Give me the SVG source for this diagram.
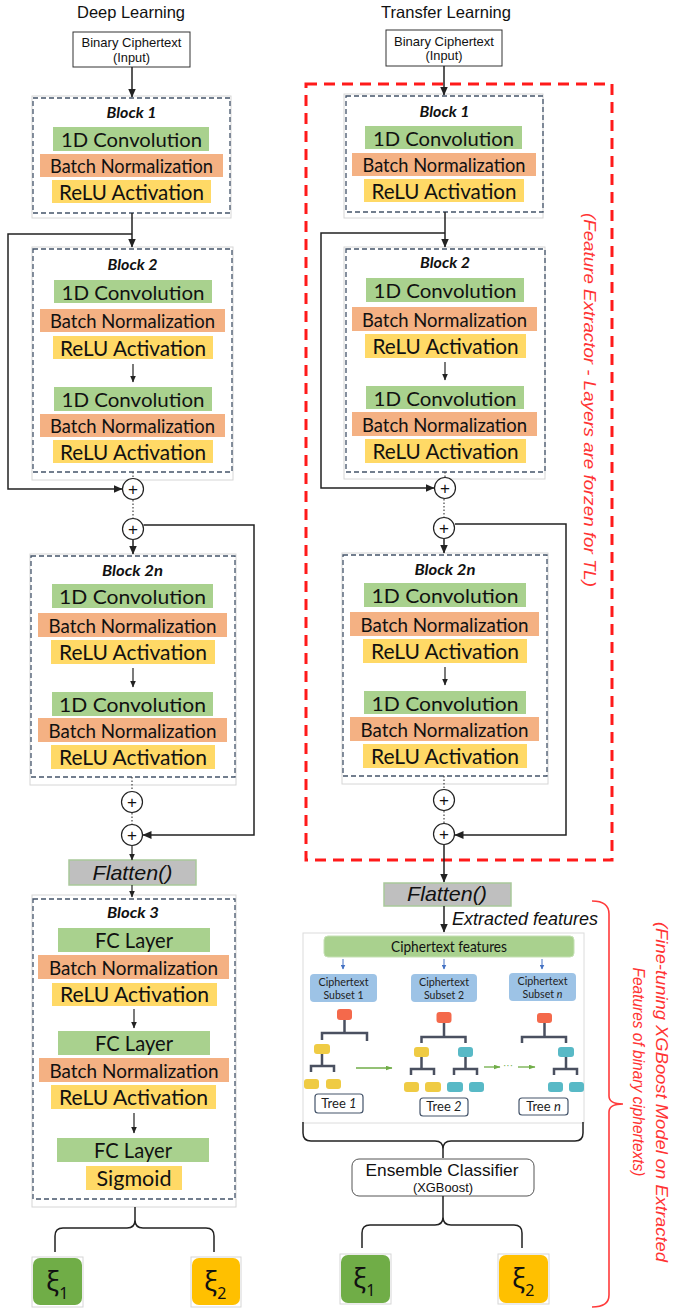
<svg xmlns="http://www.w3.org/2000/svg" width="675" height="1310" viewBox="0 0 675 1310">
<defs>
<marker id="ah" markerWidth="9" markerHeight="8" refX="8.5" refY="4" orient="auto" markerUnits="userSpaceOnUse"><path d="M0,0 L9,4 L0,8 z" fill="#222"/></marker>
<marker id="ahs" markerWidth="7" markerHeight="6" refX="6.5" refY="3" orient="auto" markerUnits="userSpaceOnUse"><path d="M0,0 L7,3 L0,6 z" fill="#222"/></marker>
<marker id="ahg" markerWidth="7" markerHeight="5" refX="6.5" refY="2.5" orient="auto" markerUnits="userSpaceOnUse"><path d="M0,0 L7,2.5 L0,5 z" fill="#70ad47"/></marker>
<marker id="ahb" markerWidth="5" markerHeight="5" refX="4.5" refY="2.5" orient="auto" markerUnits="userSpaceOnUse"><path d="M0,0 L5,2.5 L0,5 z" fill="#4472c4"/></marker>
</defs>
<style>
.frame{fill:#fff;stroke:#d6d6d6;stroke-width:1}
.blk{fill:none;stroke:#44546a;stroke-width:1.3;stroke-dasharray:5 3}
.conv{fill:#a9d18e}
.bn{fill:#f4b183}
.relu{fill:#ffd966}
.lt{font-family:Lato,"Open Sans",sans-serif;fill:#111;text-anchor:middle}
.cv{font-size:19.5px}
.bnt{font-size:18.5px}
.rl{font-size:20.5px}
.bt{font-family:Lato,sans-serif;font-weight:bold;font-style:italic;font-size:15px;text-anchor:middle;fill:#111}
.hd{font-family:"Liberation Sans",Arial,sans-serif;fill:#111;text-anchor:middle}
.ln{fill:none;stroke:#222;stroke-width:1.5}
.thin{fill:none;stroke:#222;stroke-width:1.2}
.dot{fill:none;stroke:#444;stroke-width:1.2;stroke-dasharray:1.5 2}
.pc{fill:#fff;stroke:#222;stroke-width:1.2}
.pt{font-family:"Liberation Sans",Arial,sans-serif;font-size:17px;text-anchor:middle;fill:#111}
.fl{fill:#bfbfbf;stroke:#a9c99a;stroke-width:1.5}
.flt{font-family:"Liberation Sans",Arial,sans-serif;font-style:italic;font-size:21px;text-anchor:middle;fill:#111}
.red{font-family:"Liberation Sans",Arial,sans-serif;font-style:italic;font-size:16px;fill:#ff3333;text-anchor:middle}
.xi{font-family:"Noto Sans","DejaVu Sans",sans-serif;font-size:27px;fill:#111}
.tr{fill:none;stroke:#4a5060;stroke-width:2.5}
.nr{fill:#f4694b}
.ny{fill:#efcb44}
.nt{fill:#58b9c6}
.sub{fill:#9dc3e6}
.st{font-family:Lato,sans-serif;font-size:10.5px;fill:#222;text-anchor:middle}
.tl{font-family:Lato,sans-serif;font-size:13px;fill:#222;text-anchor:middle}
.tb{fill:#fff;stroke:#44546a;stroke-width:1.2}
</style>

<rect width="675" height="1310" fill="#fff"/>

<g id="titles">
<text class="hd" x="131" y="18" font-size="16.5" textLength="108" lengthAdjust="spacingAndGlyphs">Deep Learning</text>
<text class="hd" x="446" y="18" font-size="16.5" textLength="130" lengthAdjust="spacingAndGlyphs">Transfer Learning</text>
</g>

<g id="feature-extractor-region">
<rect x="306" y="84" width="306" height="776" fill="none" stroke="#ff1a1a" stroke-width="3" stroke-dasharray="11 7"/>
<text class="red" transform="translate(584,400) rotate(90)" textLength="374" lengthAdjust="spacingAndGlyphs">(Feature Extractor - Layers are forzen for TL)</text>
</g>

<!-- LEFT COLUMN -->
<g id="dl-input">
<rect x="73" y="32" width="117" height="35" fill="#fff" stroke="#333" stroke-width="1"/>
<text class="hd" x="131.5" y="47" font-size="13" textLength="100" lengthAdjust="spacingAndGlyphs">Binary Ciphertext</text>
<text class="hd" x="131.5" y="61.5" font-size="13" textLength="37" lengthAdjust="spacingAndGlyphs">(Input)</text>
</g>

<g id="dl-block1">
<rect class="frame" x="32" y="96" width="199" height="122"/>
<rect class="blk" x="33" y="98" width="197" height="115"/>
<text class="bt" x="131.5" y="118" textLength="50" lengthAdjust="spacingAndGlyphs">Block 1</text>
<rect class="conv" x="53" y="127" width="156" height="24"/>
<text class="lt cv" x="131.5" y="147" textLength="141" lengthAdjust="spacingAndGlyphs">1D Convolution</text>
<rect class="bn" x="40" y="154" width="183" height="23"/>
<text class="lt bnt" x="131.5" y="172.5" textLength="163" lengthAdjust="spacingAndGlyphs">Batch Normalization</text>
<rect class="relu" x="52" y="180" width="159" height="23"/>
<text class="lt rl" x="131.5" y="199.5" textLength="145" lengthAdjust="spacingAndGlyphs">ReLU Activation</text>
</g>

<g id="dl-block2">
<rect class="frame" x="32" y="247" width="201" height="233"/>
<rect class="blk" x="33" y="249" width="199" height="223"/>
<text class="bt" x="132.5" y="270" textLength="50" lengthAdjust="spacingAndGlyphs">Block 2</text>
<rect class="conv" x="54" y="280" width="158" height="23"/>
<text class="lt cv" x="133" y="299.5" textLength="143" lengthAdjust="spacingAndGlyphs">1D Convolution</text>
<rect class="bn" x="40" y="309" width="185" height="23"/>
<text class="lt bnt" x="132.5" y="327.5" textLength="165" lengthAdjust="spacingAndGlyphs">Batch Normalization</text>
<rect class="relu" x="53" y="336" width="160" height="23"/>
<text class="lt rl" x="133" y="355.5" textLength="146" lengthAdjust="spacingAndGlyphs">ReLU Activation</text>
<line class="thin" x1="133" y1="364" x2="133" y2="382" marker-end="url(#ahs)"/>
<rect class="conv" x="54" y="387" width="158" height="24"/>
<text class="lt cv" x="133" y="407" textLength="143" lengthAdjust="spacingAndGlyphs">1D Convolution</text>
<rect class="bn" x="40" y="414" width="185" height="23"/>
<text class="lt bnt" x="132.5" y="432.5" textLength="165" lengthAdjust="spacingAndGlyphs">Batch Normalization</text>
<rect class="relu" x="53" y="440" width="160" height="23"/>
<text class="lt rl" x="133" y="459.5" textLength="146" lengthAdjust="spacingAndGlyphs">ReLU Activation</text>
</g>

<g id="dl-block2n">
<rect class="frame" x="30" y="554" width="206" height="231"/>
<rect class="blk" x="31" y="556" width="204" height="221"/>
<text class="bt" x="132.5" y="576" textLength="61" lengthAdjust="spacingAndGlyphs">Block 2n</text>
<rect class="conv" x="52" y="584" width="161" height="24"/>
<text class="lt cv" x="132.5" y="604" textLength="147" lengthAdjust="spacingAndGlyphs">1D Convolution</text>
<rect class="bn" x="38" y="613" width="189" height="24"/>
<text class="lt bnt" x="132.5" y="632.5" textLength="168" lengthAdjust="spacingAndGlyphs">Batch Normalization</text>
<rect class="relu" x="51" y="640" width="164" height="24"/>
<text class="lt rl" x="133" y="660" textLength="148" lengthAdjust="spacingAndGlyphs">ReLU Activation</text>
<line class="thin" x1="133" y1="668" x2="133" y2="687" marker-end="url(#ahs)"/>
<rect class="conv" x="52" y="692" width="161" height="24"/>
<text class="lt cv" x="132.5" y="712" textLength="147" lengthAdjust="spacingAndGlyphs">1D Convolution</text>
<rect class="bn" x="38" y="718" width="189" height="24"/>
<text class="lt bnt" x="132.5" y="737.5" textLength="168" lengthAdjust="spacingAndGlyphs">Batch Normalization</text>
<rect class="relu" x="51" y="745" width="164" height="24"/>
<text class="lt rl" x="133" y="765" textLength="148" lengthAdjust="spacingAndGlyphs">ReLU Activation</text>
</g>

<g id="dl-plus">
<circle class="pc" cx="133" cy="489" r="10.5"/><text class="pt" x="133" y="495">+</text>
<circle class="pc" cx="133" cy="529" r="10.5"/><text class="pt" x="133" y="535">+</text>
<circle class="pc" cx="132" cy="802" r="10.5"/><text class="pt" x="132" y="808">+</text>
<circle class="pc" cx="132" cy="835" r="10.5"/><text class="pt" x="132" y="841">+</text>
</g>

<g id="dl-flatten">
<rect class="fl" x="69" y="860" width="127" height="25"/>
<text class="flt" x="132.5" y="880" textLength="80" lengthAdjust="spacingAndGlyphs">Flatten()</text>
</g>

<g id="dl-block3">
<rect class="frame" x="32" y="895" width="204" height="312"/>
<rect class="blk" x="33" y="899" width="202" height="300"/>
<text class="bt" x="133" y="918" textLength="52" lengthAdjust="spacingAndGlyphs">Block 3</text>
<rect class="conv" x="58" y="928" width="152" height="24"/>
<text class="lt rl" x="134" y="948" textLength="78" lengthAdjust="spacingAndGlyphs">FC Layer</text>
<rect class="bn" x="38" y="955" width="191" height="24"/>
<text class="lt bnt" x="133.5" y="974.5" textLength="169" lengthAdjust="spacingAndGlyphs">Batch Normalization</text>
<rect class="relu" x="52" y="983" width="165" height="23"/>
<text class="lt rl" x="134.5" y="1002" textLength="149" lengthAdjust="spacingAndGlyphs">ReLU Activation</text>
<line class="thin" x1="134" y1="1009" x2="134" y2="1028" marker-end="url(#ahs)"/>
<rect class="conv" x="58" y="1031" width="152" height="24"/>
<text class="lt rl" x="134" y="1051" textLength="78" lengthAdjust="spacingAndGlyphs">FC Layer</text>
<rect class="bn" x="39" y="1058" width="190" height="24"/>
<text class="lt bnt" x="134" y="1077.5" textLength="169" lengthAdjust="spacingAndGlyphs">Batch Normalization</text>
<rect class="relu" x="51" y="1085" width="165" height="24"/>
<text class="lt rl" x="133.5" y="1105" textLength="149" lengthAdjust="spacingAndGlyphs">ReLU Activation</text>
<line class="thin" x1="134" y1="1113" x2="134" y2="1133" marker-end="url(#ahs)"/>
<rect class="conv" x="57" y="1138" width="152" height="24"/>
<text class="lt rl" x="133" y="1158" textLength="78" lengthAdjust="spacingAndGlyphs">FC Layer</text>
<rect class="relu" x="86" y="1166" width="96" height="24"/>
<text class="lt rl" x="134" y="1186" textLength="75" lengthAdjust="spacingAndGlyphs">Sigmoid</text>
</g>

<g id="dl-out1">
<rect class="frame" x="32" y="1257" width="51" height="50"/>
<rect x="33" y="1258" width="49" height="47" rx="7" fill="#70ad47"/>
<text class="xi" x="46" y="1291">ξ<tspan font-size="16" dy="8">1</tspan></text>
</g>
<g id="dl-out2">
<rect class="frame" x="191" y="1257" width="50" height="50"/>
<rect x="192" y="1258" width="48" height="47" rx="7" fill="#ffc000"/>
<text class="xi" x="204" y="1291">ξ<tspan font-size="16" dy="8">2</tspan></text>
</g>

<!-- RIGHT COLUMN -->
<g id="tl-input">
<rect x="386" y="30" width="116" height="36" fill="#fff" stroke="#333" stroke-width="1"/>
<text class="hd" x="444" y="45.5" font-size="13" textLength="100" lengthAdjust="spacingAndGlyphs">Binary Ciphertext</text>
<text class="hd" x="444" y="60" font-size="13" textLength="37" lengthAdjust="spacingAndGlyphs">(Input)</text>
</g>

<g id="tl-block1">
<rect class="frame" x="344" y="94" width="199" height="124"/>
<rect class="blk" x="346" y="96" width="197" height="116"/>
<text class="bt" x="444.5" y="117" textLength="50" lengthAdjust="spacingAndGlyphs">Block 1</text>
<rect class="conv" x="365" y="126" width="157" height="23"/>
<text class="lt cv" x="443.5" y="145.5" textLength="141" lengthAdjust="spacingAndGlyphs">1D Convolution</text>
<rect class="bn" x="352" y="153" width="184" height="23"/>
<text class="lt bnt" x="444" y="171.5" textLength="163" lengthAdjust="spacingAndGlyphs">Batch Normalization</text>
<rect class="relu" x="364" y="179" width="160" height="23"/>
<text class="lt rl" x="444" y="198.5" textLength="145" lengthAdjust="spacingAndGlyphs">ReLU Activation</text>
</g>

<g id="tl-block2">
<rect class="frame" x="344" y="247" width="201" height="232"/>
<rect class="blk" x="346" y="249" width="199" height="223"/>
<text class="bt" x="445" y="268" textLength="50" lengthAdjust="spacingAndGlyphs">Block 2</text>
<rect class="conv" x="366" y="278" width="158" height="24"/>
<text class="lt cv" x="445" y="298" textLength="143" lengthAdjust="spacingAndGlyphs">1D Convolution</text>
<rect class="bn" x="352" y="307" width="185" height="24"/>
<text class="lt bnt" x="444.5" y="326.5" textLength="165" lengthAdjust="spacingAndGlyphs">Batch Normalization</text>
<rect class="relu" x="365" y="334" width="161" height="24"/>
<text class="lt rl" x="445.5" y="354" textLength="146" lengthAdjust="spacingAndGlyphs">ReLU Activation</text>
<line class="thin" x1="445" y1="362" x2="445" y2="380" marker-end="url(#ahs)"/>
<rect class="conv" x="366" y="386" width="158" height="23"/>
<text class="lt cv" x="445" y="405.5" textLength="143" lengthAdjust="spacingAndGlyphs">1D Convolution</text>
<rect class="bn" x="352" y="412" width="185" height="24"/>
<text class="lt bnt" x="444.5" y="431.5" textLength="165" lengthAdjust="spacingAndGlyphs">Batch Normalization</text>
<rect class="relu" x="365" y="439" width="161" height="24"/>
<text class="lt rl" x="445.5" y="459" textLength="146" lengthAdjust="spacingAndGlyphs">ReLU Activation</text>
</g>

<g id="tl-block2n">
<rect class="frame" x="342" y="553" width="206" height="231"/>
<rect class="blk" x="343" y="555" width="204" height="221"/>
<text class="bt" x="445" y="575" textLength="61" lengthAdjust="spacingAndGlyphs">Block 2n</text>
<rect class="conv" x="364" y="583" width="162" height="24"/>
<text class="lt cv" x="445" y="603" textLength="147" lengthAdjust="spacingAndGlyphs">1D Convolution</text>
<rect class="bn" x="350" y="612" width="189" height="24"/>
<text class="lt bnt" x="444.5" y="631.5" textLength="168" lengthAdjust="spacingAndGlyphs">Batch Normalization</text>
<rect class="relu" x="363" y="639" width="164" height="24"/>
<text class="lt rl" x="445" y="659" textLength="148" lengthAdjust="spacingAndGlyphs">ReLU Activation</text>
<line class="thin" x1="445" y1="667" x2="445" y2="685" marker-end="url(#ahs)"/>
<rect class="conv" x="364" y="691" width="162" height="23"/>
<text class="lt cv" x="445" y="710.5" textLength="147" lengthAdjust="spacingAndGlyphs">1D Convolution</text>
<rect class="bn" x="350" y="717" width="189" height="24"/>
<text class="lt bnt" x="444.5" y="736.5" textLength="168" lengthAdjust="spacingAndGlyphs">Batch Normalization</text>
<rect class="relu" x="363" y="744" width="164" height="24"/>
<text class="lt rl" x="445" y="764" textLength="148" lengthAdjust="spacingAndGlyphs">ReLU Activation</text>
</g>

<g id="tl-plus">
<circle class="pc" cx="445" cy="488" r="10.5"/><text class="pt" x="445" y="494">+</text>
<circle class="pc" cx="444" cy="528" r="10.5"/><text class="pt" x="444" y="534">+</text>
<circle class="pc" cx="444" cy="800" r="10.5"/><text class="pt" x="444" y="806">+</text>
<circle class="pc" cx="444" cy="834" r="10.5"/><text class="pt" x="444" y="840">+</text>
</g>

<g id="tl-flatten">
<rect class="fl" x="384" y="883" width="127" height="23"/>
<text class="flt" x="447" y="901" textLength="80" lengthAdjust="spacingAndGlyphs">Flatten()</text>
</g>

<g id="xgboost-trees">
<rect x="303" y="933" width="281" height="190" fill="#fff" stroke="#dcdcdc" stroke-width="1"/>
<rect x="324" y="936" width="250" height="21" rx="4" fill="#a9d18e" stroke="#c5e0b4"/>
<text class="lt" x="449" y="951.5" font-size="15" textLength="116" lengthAdjust="spacingAndGlyphs">Ciphertext features</text>
<rect class="sub" x="310" y="974" width="67" height="28" rx="4"/>
<text class="st" x="343.5" y="986" textLength="50" lengthAdjust="spacingAndGlyphs">Ciphertext</text>
<text class="st" x="343.5" y="999" textLength="40" lengthAdjust="spacingAndGlyphs">Subset 1</text>
<rect class="sub" x="411" y="974" width="66" height="28" rx="4"/>
<text class="st" x="444" y="986" textLength="50" lengthAdjust="spacingAndGlyphs">Ciphertext</text>
<text class="st" x="444" y="999" textLength="40" lengthAdjust="spacingAndGlyphs">Subset 2</text>
<rect class="sub" x="509" y="973" width="67" height="28" rx="4"/>
<text class="st" x="542.5" y="985" textLength="50" lengthAdjust="spacingAndGlyphs">Ciphertext</text>
<text class="st" x="542.5" y="998" textLength="40" lengthAdjust="spacingAndGlyphs">Subset <tspan font-style="italic">n</tspan></text>
<!-- tree 1 -->
<path class="tr" d="M344.5,1020 V1033 M322,1040 V1033 H367 V1041 M322,1054 V1066 M311,1072 V1066 H334 V1072"/>
<rect class="nr" x="337" y="1009" width="15" height="11" rx="3"/>
<rect class="ny" x="314" y="1044" width="16" height="10" rx="3"/>
<rect class="ny" x="304" y="1079" width="15" height="10" rx="3"/>
<rect class="ny" x="326" y="1079" width="15" height="10" rx="3"/>
<rect class="tb" x="315" y="1094" width="48" height="19" rx="3"/>
<text class="tl" x="339" y="1108">Tree <tspan font-style="italic">1</tspan></text>
<!-- tree 2 -->
<path class="tr" d="M444,1023 V1037 M421.5,1043 V1037 H465.5 V1043 M421.5,1057 V1069 M411,1075 V1069 H434 V1075 M465.5,1057 V1069 M454,1075 V1069 H477 V1075"/>
<rect class="nr" x="436.5" y="1012" width="15" height="11" rx="3"/>
<rect class="ny" x="414" y="1047" width="15" height="10" rx="3"/>
<rect class="nt" x="458" y="1047" width="15" height="10" rx="3"/>
<rect class="ny" x="404" y="1082" width="15" height="10" rx="3"/>
<rect class="ny" x="425" y="1082" width="16" height="10" rx="3"/>
<rect class="nt" x="447" y="1082" width="16" height="10" rx="3"/>
<rect class="nt" x="469" y="1082" width="15" height="10" rx="3"/>
<rect class="tb" x="420" y="1098" width="48" height="18" rx="3"/>
<text class="tl" x="444" y="1111">Tree <tspan font-style="italic">2</tspan></text>
<!-- tree n -->
<path class="tr" d="M544.5,1023 V1037 M522,1043 V1037 H566 V1043 M566,1057 V1069 M554,1075 V1069 H577 V1075"/>
<rect class="nr" x="537" y="1013" width="15" height="10" rx="3"/>
<rect class="nt" x="558" y="1047" width="16" height="10" rx="3"/>
<rect class="nt" x="548" y="1082" width="15" height="10" rx="3"/>
<rect class="nt" x="569" y="1082" width="15" height="10" rx="3"/>
<rect class="tb" x="519" y="1098" width="49" height="17" rx="3"/>
<text class="tl" x="543.5" y="1110.5">Tree <tspan font-style="italic">n</tspan></text>
<text x="508" y="1069" font-family="Liberation Sans,sans-serif" font-size="10" fill="#70ad47" text-anchor="middle">···</text>
</g>

<g id="tl-ensemble">
<rect x="352" y="1159" width="182" height="37" rx="7" fill="#fff" stroke="#555" stroke-width="1"/>
<text class="hd" x="442" y="1176" font-size="17" textLength="153" lengthAdjust="spacingAndGlyphs">Ensemble Classifier</text>
<text class="hd" x="443" y="1192" font-size="12.5" textLength="60" lengthAdjust="spacingAndGlyphs">(XGBoost)</text>
</g>

<g id="tl-out1">
<rect class="frame" x="340" y="1254" width="51" height="50"/>
<rect x="341" y="1255" width="49" height="48" rx="7" fill="#70ad47"/>
<text class="xi" x="353" y="1288">ξ<tspan font-size="16" dy="8">1</tspan></text>
</g>
<g id="tl-out2">
<rect class="frame" x="498" y="1254" width="51" height="50"/>
<rect x="499" y="1255" width="49" height="48" rx="7" fill="#ffc000"/>
<text class="xi" x="512" y="1288">ξ<tspan font-size="16" dy="8">2</tspan></text>
</g>

<g id="finetune-label">
<path d="M592,901 Q609,901 609,914 L609,1096 Q609,1104 623,1104 Q609,1104 609,1112 L609,1295 Q609,1307 592,1307" fill="none" stroke="#ff3b3b" stroke-width="1.6"/>
<text class="red" transform="translate(656,1092) rotate(90)" font-size="16.5" textLength="340" lengthAdjust="spacingAndGlyphs">(Fine-tuning XGBoost Model on Extracted</text>
<text class="red" transform="translate(633,1072) rotate(90)" font-size="16.5" textLength="209" lengthAdjust="spacingAndGlyphs">Features of binary ciphertexts)</text>
</g>

<g id="connectors">
<line class="ln" x1="132" y1="67" x2="132" y2="97" marker-end="url(#ah)"/>
<line class="ln" x1="132" y1="213" x2="132" y2="247" marker-end="url(#ah)"/>
<path class="ln" d="M132,234 H8 V489 H122" marker-end="url(#ah)"/>
<line class="dot" x1="133" y1="472" x2="133" y2="478"/>
<line class="dot" x1="133" y1="500" x2="133" y2="518"/>
<line class="ln" x1="133" y1="540" x2="133" y2="554" marker-end="url(#ah)"/>
<path class="ln" d="M143.5,525 H254 V835 H143" marker-end="url(#ah)"/>
<line class="dot" x1="132" y1="777" x2="132" y2="791"/>
<line class="dot" x1="132" y1="813" x2="132" y2="824"/>
<line class="thin" x1="132" y1="846" x2="132" y2="860" marker-end="url(#ahs)"/>
<line class="thin" x1="132" y1="885" x2="132" y2="897" marker-end="url(#ahs)"/>
<path class="ln" d="M135,1207 V1220 Q135,1228 127,1228 H63 Q55,1228 55,1236 V1252 M135,1220 Q135,1228 143,1228 H206 Q214,1228 214,1236 V1252"/>
<line class="ln" x1="444" y1="66" x2="444" y2="95" marker-end="url(#ah)"/>
<line class="ln" x1="445" y1="212" x2="445" y2="247" marker-end="url(#ah)"/>
<path class="ln" d="M445,233 H321 V488 H434" marker-end="url(#ah)"/>
<line class="dot" x1="445" y1="472" x2="445" y2="477"/>
<line class="dot" x1="444" y1="499" x2="444" y2="517"/>
<line class="ln" x1="444" y1="539" x2="444" y2="553" marker-end="url(#ah)"/>
<path class="ln" d="M455,524 H566 V835 H455" marker-end="url(#ah)"/>
<line class="dot" x1="444" y1="776" x2="444" y2="789"/>
<line class="dot" x1="444" y1="811" x2="444" y2="823"/>
<line class="ln" x1="444" y1="845" x2="444" y2="882" marker-end="url(#ah)"/>
<line class="ln" x1="444" y1="906" x2="444" y2="932" marker-end="url(#ah)"/>
<text x="452" y="925" font-family="Liberation Sans,Arial,sans-serif" font-style="italic" font-size="18" fill="#111" textLength="146" lengthAdjust="spacingAndGlyphs">Extracted features</text>
<line x1="343" y1="959" x2="343" y2="969" stroke="#4472c4" stroke-width="1" marker-end="url(#ahb)"/>
<line x1="444" y1="959" x2="444" y2="969" stroke="#4472c4" stroke-width="1" marker-end="url(#ahb)"/>
<line x1="542" y1="959" x2="542" y2="969" stroke="#4472c4" stroke-width="1" marker-end="url(#ahb)"/>
<line x1="356" y1="1068" x2="392" y2="1068" stroke="#70ad47" stroke-width="1.3" marker-end="url(#ahg)"/>
<line x1="484" y1="1067" x2="500" y2="1067" stroke="#70ad47" stroke-width="1.3" marker-end="url(#ahg)"/>
<line x1="518" y1="1067" x2="535" y2="1067" stroke="#70ad47" stroke-width="1.3" marker-end="url(#ahg)"/>
<path class="ln" d="M303,1122 V1133 Q303,1141 311,1141 H435 Q443,1141 443,1149 V1158 M443,1149 Q443,1141 451,1141 H575 Q583,1141 583,1133 V1122"/>
<path class="ln" d="M443,1196 V1217 Q443,1225 435,1225 H370 Q362,1225 362,1233 V1248 M443,1217 Q443,1225 451,1225 H514 Q522,1225 522,1233 V1248"/>
</g>
</svg>
